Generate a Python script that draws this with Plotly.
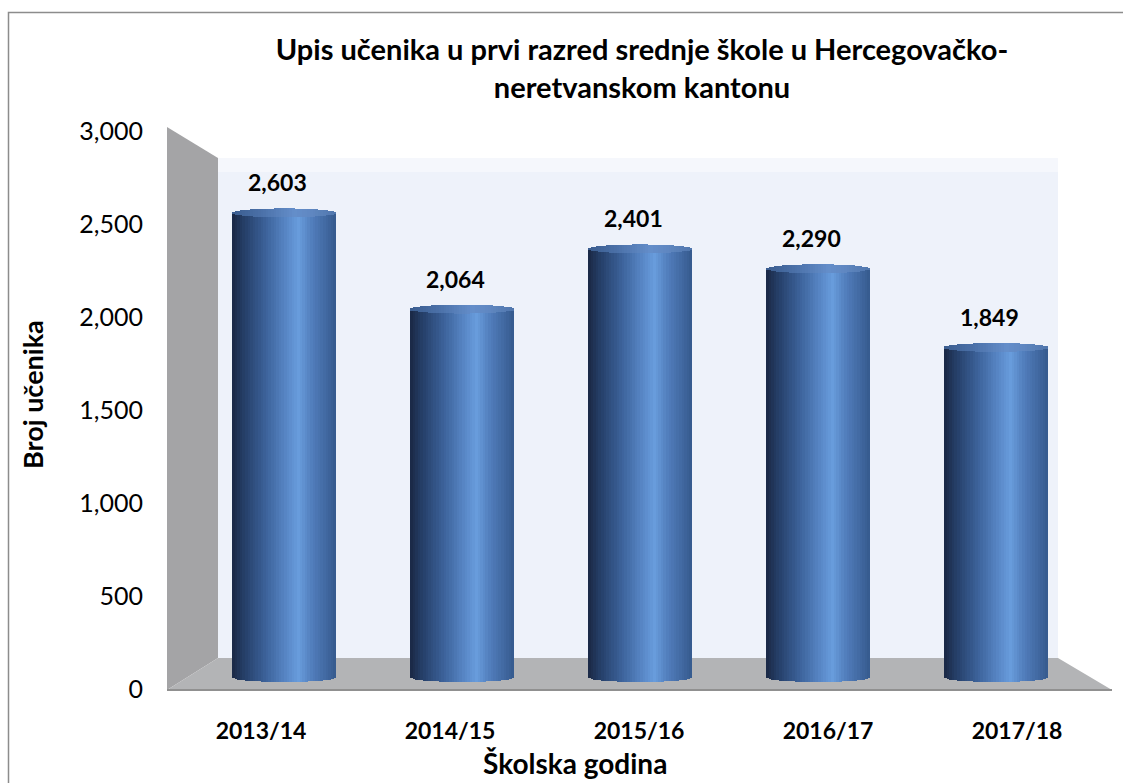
import plotly.graph_objects as go
import numpy as np

# ---- data ----
categories = ["2013/14", "2014/15", "2015/16", "2016/17", "2017/18"]
values = [2603, 2064, 2401, 2290, 1849]
y_ticks = [0, 500, 1000, 1500, 2000, 2500, 3000]
title_text = "Upis učenika u prvi razred srednje škole u Hercegovačko-<br>neretvanskom kantonu"
y_title = "Broj učenika"
x_title = "Školska godina"

W, H = 1123, 783
FONT = "Lato"


def px(x):
    return x / W


def py(y):
    return 1 - y / H


def path(points):
    return "M " + " L ".join(f"{px(a):.5f},{py(b):.5f}" for a, b in points) + " Z"


# geometry of the bar axis (pixel layout)
zero_px = 677.0
scale = 0.1785  # px per unit
ymin_bar = -60
ymax_bar = 3000
bar_dom = [py(zero_px - ymin_bar * scale), py(zero_px - ymax_bar * scale)]
cap_d = 25.0  # half-height of the ellipse in data units
bar_w = 0.584
N = 40


def lerp_color(u, stops):
    for (u0, c0), (u1, c1) in zip(stops[:-1], stops[1:]):
        if u0 <= u <= u1:
            t = (u - u0) / (u1 - u0)
            return tuple(int(round(a + (b - a) * t)) for a, b in zip(c0, c1))
    return stops[-1][1]


body_stops = [(-1.0, (26, 40, 68)), (-0.75, (38, 64, 106)), (-0.35, (60, 98, 154)),
              (0.1, (92, 140, 204)), (0.28, (104, 156, 220)), (0.55, (80, 124, 186)),
              (1.0, (54, 90, 142))]
cap_stops = [(-1.0, (58, 92, 142)), (-0.4, (76, 114, 170)), (0.2, (100, 142, 202)),
             (0.5, (96, 136, 194)), (1.0, (80, 118, 172))]

fig = go.Figure()

strip = bar_w / N
for i in range(N):
    u = -1 + (i + 0.5) * 2 / N
    s = np.sqrt(max(0.0, 1 - u * u))
    c = lerp_color(u, body_stops)
    fig.add_trace(go.Bar(
        x=categories, y=[v + cap_d * s for v in values],
        base=[-cap_d * s] * len(values),
        offset=-bar_w / 2 + i * strip, width=strip * 1.06,
        marker=dict(color=f"rgb{c}", line=dict(width=0)),
        xaxis="x", yaxis="y2", showlegend=False, hoverinfo="skip"))
for i in range(N):
    u = -1 + (i + 0.5) * 2 / N
    s = np.sqrt(max(0.0, 1 - u * u))
    c = lerp_color(u, cap_stops)
    fig.add_trace(go.Bar(
        x=categories, y=[2 * cap_d * s] * len(values),
        base=[v - cap_d * s for v in values],
        offset=-bar_w / 2 + i * strip, width=strip * 1.06,
        marker=dict(color=f"rgb{c}", line=dict(width=0)),
        xaxis="x", yaxis="y2", showlegend=False, hoverinfo="skip"))

# invisible trace carrying the front axes (labels)
fig.add_trace(go.Scatter(x=categories, y=values, mode="markers",
                         marker=dict(opacity=0), xaxis="x2", yaxis="y",
                         showlegend=False, hoverinfo="skip"))

shapes = []
# outer border (top and left)
shapes.append(dict(type="path", xref="paper", yref="paper",
                   path=f"M {px(8.5):.5f},{py(783):.5f} L {px(8.5):.5f},{py(12.5):.5f} L {px(1123):.5f},{py(12.5):.5f}",
                   line=dict(color="#8c8c8c", width=1.5), layer="below"))
# back wall
shapes.append(dict(type="path", xref="paper", yref="paper",
                   path=path([(218, 158), (1058, 158), (1058, 658), (218, 658)]),
                   fillcolor="#eef2fa", line=dict(width=0), layer="below"))
shapes.append(dict(type="path", xref="paper", yref="paper",
                   path=path([(218, 158), (1058, 158), (1058, 172), (218, 172)]),
                   fillcolor="#f5f7fc", line=dict(width=0), layer="below"))
# left wall
shapes.append(dict(type="path", xref="paper", yref="paper",
                   path=path([(167, 127), (218, 158), (218, 658), (167, 690)]),
                   fillcolor="#a4a4a6", line=dict(width=0), layer="below"))
# floor
shapes.append(dict(type="path", xref="paper", yref="paper",
                   path=path([(167, 690), (218, 658), (1058, 658), (1112, 690)]),
                   fillcolor="#b3b4b6", line=dict(width=0), layer="below"))
shapes.append(dict(type="line", xref="paper", yref="paper",
                   x0=px(167), x1=px(1112), y0=py(690), y1=py(690),
                   line=dict(color="#909090", width=2), layer="below"))

annotations = []
for c, v in zip(categories, values):
    annotations.append(dict(x=c, y=v, xref="x", yref="y2", text=f"<b>{v:,}</b>",
                            showarrow=False, yanchor="bottom", yshift=14, xshift=-7,
                            font=dict(family=FONT, size=23, color="#000000")))
annotations.append(dict(x=px(32), y=py(395), xref="paper", yref="paper",
                        xanchor="center", yanchor="middle",
                        text=f"<b>{y_title}</b>", textangle=-90, showarrow=False,
                        font=dict(family=FONT, size=27, color="#000000")))
annotations.append(dict(x=px(575), y=py(763), xref="paper", yref="paper",
                        xanchor="center", yanchor="middle",
                        text=f"<b>{x_title}</b>", showarrow=False,
                        font=dict(family=FONT, size=28, color="#000000")))

fig.update_layout(
    template="none",
    width=W, height=H, autosize=False,
    margin=dict(l=0, r=0, t=0, b=0, pad=0),
    paper_bgcolor="white", plot_bgcolor="rgba(0,0,0,0)",
    barmode="overlay", bargap=0, showlegend=False,
    font=dict(family=FONT, color="#000000"),
    title=dict(text=f"<b>{title_text}</b>", x=px(642), xanchor="center",
               y=py(60), yanchor="top", xref="paper", yref="paper", automargin=False,
               font=dict(family=FONT, size=29, color="#000000")),
    xaxis=dict(domain=[px(195), px(1085)], range=[-0.5, 4.5], anchor="y2",
               showticklabels=False, showgrid=False, zeroline=False, automargin=False,
               showline=False, ticks="", type="category"),
    yaxis2=dict(domain=bar_dom, range=[ymin_bar, ymax_bar], anchor="x",
                showticklabels=False, showgrid=False, automargin=False,
                zeroline=False, showline=False, ticks=""),
    xaxis2=dict(domain=[px(166.5), px(1111.5)], range=[-0.5, 4.5], anchor="free",
                position=py(715), type="category", automargin=False,
                tickmode="array", tickvals=categories,
                ticktext=[f"<b>{c}</b>" for c in categories],
                tickfont=dict(family=FONT, size=23, color="#000000"),
                showgrid=False, zeroline=False, showline=False, ticks=""),
    yaxis=dict(domain=[py(689), py(131)], range=[0, 3000], anchor="free",
               position=px(143), tickmode="array", tickvals=y_ticks, automargin=False,
               tickformat=",", tickfont=dict(family=FONT, size=25, color="#000000"),
               showgrid=False, zeroline=False, showline=False, ticks=""),
    shapes=shapes,
    annotations=annotations,
)

fig.write_html("out.html", config={"displayModeBar": False},
               post_script="document.body.style.margin='0px';")
